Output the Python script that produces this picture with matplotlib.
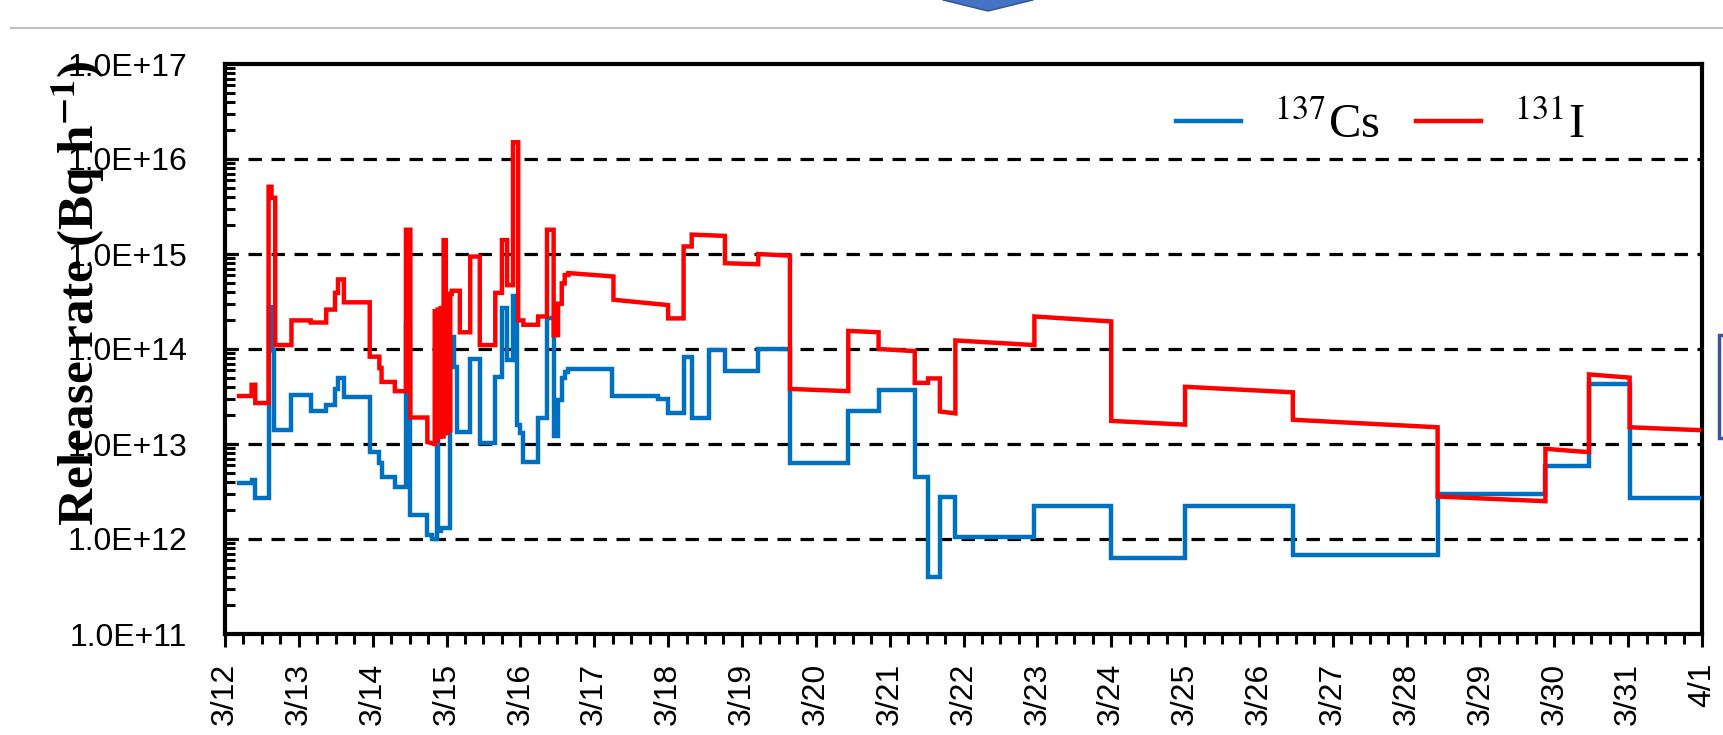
import numpy as np
import matplotlib
matplotlib.use("Agg")
import matplotlib.pyplot as plt
from matplotlib.ticker import LogLocator, FuncFormatter, MultipleLocator, NullFormatter
from matplotlib.lines import Line2D
from matplotlib.patches import Polygon, Rectangle

plt.rcParams.update({
    "font.family": "sans-serif",
    "font.sans-serif": ["Liberation Sans", "DejaVu Sans"],
    "font.serif": ["Liberation Serif", "DejaVu Serif"],
    "mathtext.fontset": "stix",
})

# Release periods in days after 3/12 00:00 and hourly release rates (Bq/h)
cs_edges = [0.19, 0.36, 0.41, 0.59, 0.63, 0.66, 0.90, 1.16, 1.37, 1.49, 1.53,
            1.61, 1.96, 2.09, 2.12, 2.30, 2.45, 2.51, 2.74, 2.80, 2.87, 2.89,
            2.93, 3.05, 3.10, 3.14, 3.32, 3.45, 3.66, 3.75, 3.82, 3.90, 3.95,
            3.99, 4.04, 4.24, 4.36, 4.45, 4.51, 4.56, 4.60, 4.65, 5.24, 5.87,
            6.00, 6.21, 6.32, 6.55, 6.77, 7.22, 7.65, 8.44, 8.85, 9.34, 9.52,
            9.68, 9.89, 10.96, 12.00, 13.00, 14.46, 16.42, 17.88, 18.47,
            19.02, 19.96]
cs_rate = [3.9e12, 4.2e12, 2.7e12, 2.8e14, 9.8e13, 1.4e13, 3.3e13, 2.2e13,
           2.6e13, 3.8e13, 4.9e13, 3.1e13, 8.3e12, 6.3e12, 4.5e12, 3.5e12,
           1.8e14, 1.8e12, 1.1e12, 1.0e12, 1.2e13, 1.2e12, 1.3e12, 1.35e14,
           6.5e13, 1.35e13, 7.9e13, 1.03e13, 5.1e13, 2.7e14, 7.6e13, 3.6e14,
           1.6e13, 1.3e13, 6.5e12, 1.9e13, 2.1e14, 1.2e13, 2.9e13, 4.9e13,
           5.7e13, 6.2e13, 3.2e13, 3.0e13, 2.1e13, 8.3e13, 1.9e13, 9.8e13,
           5.9e13, 1.0e14, 6.3e12, 2.2e13, 3.7e13, 4.5e12, 4.0e11, 2.8e12,
           1.05e12, 2.2e12, 6.3e11, 2.2e12, 6.8e11, 3.0e12, 5.9e12, 4.3e13,
           2.7e12]

i131_edges = [0.19, 0.36, 0.41, 0.59, 0.63, 0.68, 0.90, 1.16, 1.37, 1.49,
              1.53, 1.61, 1.96, 2.09, 2.12, 2.30, 2.45, 2.51, 2.74, 2.84,
              2.86, 2.88, 2.90, 2.92, 2.94, 2.96, 2.99, 3.01, 3.03, 3.05,
              3.07, 3.18, 3.32, 3.45, 3.66, 3.75, 3.82, 3.90, 3.97, 4.04,
              4.24, 4.36, 4.45, 4.51, 4.56, 4.60, 4.65, 5.26, 6.00, 6.21,
              6.32, 6.77, 7.22, 7.65, 8.44, 8.85, 9.34, 9.52, 9.68, 9.89,
              10.96, 12.00, 13.00, 14.46, 16.42, 17.88, 18.47, 19.02, 19.96]
# rate at the start and at the end of each release period
i131_start = [3.2e13, 4.2e13, 2.7e13, 5.1e15, 3.9e15, 1.1e14, 2.0e14, 1.9e14,
              2.6e14, 3.9e14, 5.4e14, 3.1e14, 8.3e13, 6.3e13, 4.5e13, 3.6e13,
              1.8e15, 1.9e13, 1.05e13, 2.5e14, 1.1e13, 2.6e14, 1.2e13, 2.7e14,
              1.2e13, 1.4e15, 1.3e13, 3.5e14, 1.4e13, 3.8e14, 4.1e14, 1.5e14,
              9.4e14, 1.1e14, 3.9e14, 1.4e15, 4.7e14, 1.5e16, 2.0e14, 1.8e14,
              2.2e14, 1.8e15, 1.4e14, 3.0e14, 4.9e14, 6.0e14, 6.3e14, 3.3e14,
              2.1e14, 1.2e15, 1.6e15, 8.0e14, 1.0e15, 3.8e13, 1.55e14, 1.0e14,
              4.4e13, 4.9e13, 2.2e13, 1.23e14, 2.2e14, 1.75e13, 4.0e13, 1.8e13,
              2.8e12, 8.9e12, 5.4e13, 1.5e13]
i131_end = [3.2e13, 4.2e13, 2.7e13, 5.1e15, 3.9e15, 1.1e14, 2.0e14, 1.9e14,
            2.6e14, 3.9e14, 5.4e14, 3.1e14, 8.3e13, 6.3e13, 4.5e13, 3.6e13,
            1.8e15, 1.9e13, 1.0e13, 2.5e14, 1.1e13, 2.6e14, 1.2e13, 2.7e14,
            1.2e13, 1.4e15, 1.3e13, 3.5e14, 1.4e13, 3.8e14, 4.1e14, 1.5e14,
            9.4e14, 1.1e14, 3.9e14, 1.4e15, 4.7e14, 1.5e16, 2.0e14, 1.8e14,
            2.2e14, 1.8e15, 1.4e14, 3.0e14, 4.9e14, 6.0e14, 5.8e14, 2.9e14,
            2.1e14, 1.2e15, 1.55e15, 7.8e14, 9.6e14, 3.6e13, 1.5e14, 9.5e13,
            4.4e13, 4.9e13, 2.1e13, 1.1e14, 1.95e14, 1.6e13, 3.5e13, 1.5e13,
            2.5e12, 8.2e12, 5.0e13, 1.4e13]

day_labels = ["3/12", "3/13", "3/14", "3/15", "3/16", "3/17", "3/18", "3/19",
              "3/20", "3/21", "3/22", "3/23", "3/24", "3/25", "3/26", "3/27",
              "3/28", "3/29", "3/30", "3/31", "4/1"]

C_CS = "#0070C0"
C_I = "#FF0000"
W, H, DPI = 1724, 735, 100


def stair_path(edges, v0, v1=None):
    """Polyline through each period; vertical jumps at period boundaries."""
    v1 = v0 if v1 is None else v1
    xs, ys = [], []
    for i in range(len(v0)):
        xs += [edges[i], edges[i + 1]]
        ys += [v0[i], v1[i]]
    return np.array(xs), np.array(ys)


def fxy(x, y):
    # pixel position (from top-left) -> figure fraction
    return x / W, 1 - y / H


fig = plt.figure(figsize=(W / DPI, H / DPI), dpi=DPI)
ax = fig.add_axes([225 / W, 1 - 634 / H, (1702 - 225) / W, (634 - 64) / H])

# page furniture around the chart
fig.add_artist(Line2D([11 / W, 1], [1 - 28 / H] * 2, color="#BFBFBF", lw=1.5))
fig.add_artist(Polygon([fxy(943, -5), fxy(943, 0), fxy(988, 11),
                        fxy(1033, 0), fxy(1033, -5)],
                       closed=True, transform=fig.transFigure,
                       fc="#4472C4", ec="#2F528F", lw=1))
fig.add_artist(Rectangle(fxy(1719, 438), 30 / W, (438 - 335) / H,
                         transform=fig.transFigure, fc="white",
                         ec="#3A5699", lw=2.5))

for y in [1e12, 1e13, 1e14, 1e15, 1e16]:
    ax.axhline(y, color="black", lw=2.3, ls=(0, (4.2, 3.0)), zorder=1)

xc, yc = stair_path(cs_edges, cs_rate)
ax.plot(xc, yc, color=C_CS, lw=3.2, solid_joinstyle="miter", zorder=3)
xi, yi = stair_path(i131_edges, i131_start, i131_end)
ax.plot(xi, yi, color=C_I, lw=3.2, solid_joinstyle="miter", zorder=4)

ax.set_yscale("log")
ax.set_ylim(1e11, 1e17)
ax.set_xlim(0, 20)

for s in ax.spines.values():
    s.set_linewidth(3)

ax.yaxis.set_major_locator(LogLocator(base=10, numticks=20))
ax.yaxis.set_minor_locator(LogLocator(base=10, subs=np.arange(2, 10), numticks=20))
ax.yaxis.set_minor_formatter(NullFormatter())
ax.yaxis.set_major_formatter(FuncFormatter(lambda v, _: f"{v:.1E}"))
ax.tick_params(axis="y", which="both", direction="in", width=2.2,
               labelsize=23, pad=27)
ax.tick_params(axis="y", which="major", length=8)
ax.tick_params(axis="y", which="minor", length=7.5)

ax.set_xticks(range(len(day_labels)))
ax.set_xticklabels(day_labels, rotation=90)
ax.xaxis.set_minor_locator(MultipleLocator(0.25))
ax.tick_params(axis="x", which="both", direction="out", width=2.2,
               labelsize=23, pad=11)
ax.tick_params(axis="x", which="major", length=9.5)
ax.tick_params(axis="x", which="minor", length=7)

fig.text(78 / W, 1 - 293 / H, r"Release rate (Bq h$^{\mathbf{-1}}$)",
         rotation=90, fontsize=37, fontweight="bold", family="serif",
         ha="center", va="center")

handles = [Line2D([], [], color=C_CS, lw=3.2), Line2D([], [], color=C_I, lw=3.2)]
fig.legend(handles, [r"$^{137}$Cs", r"$^{131}$I"], loc="center left",
           bbox_to_anchor=(1176 / W, 1 - 125 / H), ncol=2, frameon=False,
           borderpad=0, borderaxespad=0, handlelength=1.34,
           handletextpad=0.68, columnspacing=0.75,
           prop={"family": "serif", "size": 35})

fig.savefig("out.png", dpi=DPI)
